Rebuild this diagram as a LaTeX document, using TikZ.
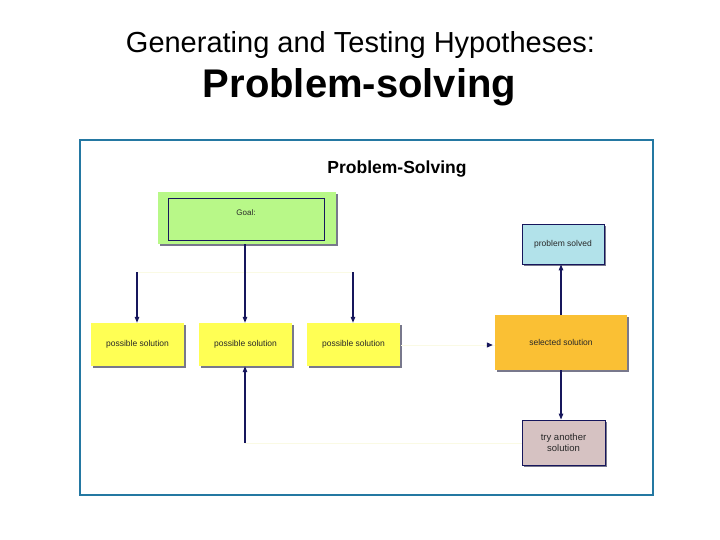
\documentclass[tikz,border=0pt]{standalone}
\usepackage{fontspec}
\setmainfont{Liberation Sans}
\usetikzlibrary{arrows.meta}
\definecolor{frameblue}{RGB}{36,120,162}
\definecolor{navy}{RGB}{22,22,92}
\definecolor{goalgreen}{RGB}{184,248,136}
\definecolor{possyellow}{RGB}{255,255,84}
\definecolor{selorange}{RGB}{250,192,52}
\definecolor{solvedblue}{RGB}{178,226,234}
\definecolor{trymauve}{RGB}{214,194,194}
\definecolor{shadowgrey}{RGB}{120,120,140}
\definecolor{faint}{RGB}{250,250,228}
\definecolor{txt}{RGB}{40,40,40}
\tikzset{
  x=1pt, y=-1pt,
  boxbase/.style={rectangle, inner sep=0pt, text=txt, align=center,
    font=\fontsize{8.5}{10}\selectfont},
  shadowed/.style={preaction={fill=shadowgrey, transform canvas={shift={(1.6pt,-1.8pt)}}}},
  possbox/.style={boxbase, shadowed, fill=possyellow, minimum width=93pt, minimum height=43pt},
  conn/.style={draw=navy, line width=1.1pt, -{Triangle[length=6pt,width=4.5pt]}},
  faintline/.style={draw=faint, line width=1pt},
}
\begin{document}
\begin{tikzpicture}
\useasboundingbox (0,0) rectangle (720,540);
% titles
\node[font=\fontsize{29}{32}\selectfont, anchor=base] (t1) at (360.5,53) {Generating and Testing Hypotheses:};
\node[font=\fontsize{40}{46}\selectfont\bfseries, anchor=base] (t2) at (359.5,98) {Problem-solving};
% frame
\draw[frameblue, line width=2.6pt] (80,140) rectangle (653,495);
\node[font=\fontsize{17.5}{19}\selectfont\bfseries, anchor=base] (pst) at (397,174) {Problem-Solving};
% goal
\node[boxbase, shadowed, fill=goalgreen, minimum width=178pt, minimum height=52pt] (goalo) at (247,218) {};
\node[boxbase, draw=navy, line width=0.9pt, minimum width=156pt, minimum height=42pt, text depth=12pt, font=\fontsize{8}{9}\selectfont] (goal) at (246,219) {Goal:};
% possible solutions
\node[possbox] (p1) at (137.5,344.5) {possible solution};
\node[possbox] (p2) at (245.5,344.5) {possible solution};
\node[possbox] (p3) at (353.5,344.5) {possible solution};
% right column
\node[boxbase, shadowed, fill=selorange, minimum width=132pt, minimum height=55pt] (sel) at (561,342.5) {selected solution};
\node[boxbase, shadowed, fill=solvedblue, draw=navy, line width=0.8pt, minimum width=82pt, minimum height=40pt] (solved) at (563,244) {problem solved};
\node[boxbase, shadowed, fill=trymauve, draw=navy, line width=0.8pt, minimum width=83pt, minimum height=45pt, font=\fontsize{9.5}{11}\selectfont] (try) at (563.5,442.5) {try another\\solution};
% helper coordinates
\coordinate (hl) at (137,272);
\coordinate (hr) at (353,272);
\coordinate (bl) at (245,443);
\coordinate (gb) at (245,244);
\coordinate (sc) at (561,345);
\coordinate (p3r) at (401,345);
% faint lines
\draw[faintline] (hl) -- (hr);
\draw[faintline] (bl) -- (try.west |- bl);
\draw[faintline] (p3r) -- (sel.west |- p3r);
% connectors
\draw[conn] (gb) -- (p2.north -| gb);
\draw[conn] (hl) -- (p1.north -| hl);
\draw[conn] (hr) -- (p3.north -| hr);
\draw[conn] (bl) -- (p2.south -| bl);
\draw[conn] (sel.north -| sc) -- (solved.south -| sc);
\draw[conn] (sel.south -| sc) -- (try.north -| sc);
\draw[navy, -{Triangle[length=6pt,width=5pt]}, line width=1.1pt] (487,345) -- ([xshift=-2pt]sel.west |- p3r);
\end{tikzpicture}
\end{document}
